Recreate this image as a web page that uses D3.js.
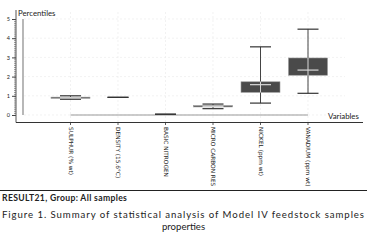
<!DOCTYPE html>
<html>
<head>
<meta charset="utf-8">
<script src="https://cdn.jsdelivr.net/npm/d3@7"></script>
<style>
  body { margin: 0; background: #fff; }
  text { font-family: Lato, "DejaVu Sans", sans-serif; fill: #222; }
</style>
</head>
<body>
<div id="chart"></div>
<script>
// values (percentile summary per variable)
const categories = ["SULPHUR (% wt)", "DENSITY (15.6°C)", "BASIC NITROGEN", "MICRO CARBON RES", "NICKEL (ppm wt)", "VANADIUM (ppm wt)"];
const minVals = [0.82, 0.92, 0.04, 0.33, 0.62, 1.13];
const q1Vals  = [0.87, 0.92, 0.04, 0.42, 1.18, 2.07];
const medVals = [0.90, 0.92, 0.04, 0.45, 1.58, 2.34];
const q3Vals  = [0.93, 0.92, 0.04, 0.49, 1.73, 2.97];
const maxVals = [1.00, 0.92, 0.04, 0.57, 3.55, 4.47];
const yTicks = [0, 1, 2, 3, 4, 5];

const W = 367, H = 245;
const svg = d3.select("#chart").append("svg")
    .attr("width", W)
    .attr("height", H);

// scales
const x = d3.scalePoint().domain(categories).range([70.5, 308]);
const y = d3.scaleLinear().domain([0, 5]).range([115, 19]);

// faint grid
svg.append("g").selectAll("line.hgrid")
    .data(yTicks)
    .enter().append("line")
    .attr("class", "hgrid")
    .attr("x1", 24).attr("x2", 345)
    .attr("y1", d => y(d)).attr("y2", d => y(d))
    .attr("stroke", "#eaeaea").attr("stroke-dasharray", "2,2").attr("stroke-width", 0.6);
svg.append("g").selectAll("line.vgrid")
    .data(categories)
    .enter().append("line")
    .attr("class", "vgrid")
    .attr("x1", d => x(d)).attr("x2", d => x(d))
    .attr("y1", 12).attr("y2", 122)
    .attr("stroke", "#eaeaea").attr("stroke-dasharray", "2,2").attr("stroke-width", 0.6);

// y axis: minor ruler ticks + major ticks
svg.append("g")
    .attr("transform", "translate(16,0)")
    .call(d3.axisLeft(y).ticks(50).tickSize(2).tickFormat(""))
    .call(g => g.select(".domain").remove())
    .call(g => g.selectAll("line").attr("stroke", "#555").attr("stroke-width", 0.6));
svg.append("g")
    .attr("transform", "translate(16,0)")
    .call(d3.axisLeft(y).tickValues(yTicks).tickSize(4).tickPadding(2).tickFormat(d3.format("d")))
    .call(g => g.select(".domain").remove())
    .call(g => g.selectAll("line").attr("stroke", "#444"))
    .call(g => g.selectAll("text").style("font-size", "5.5px").attr("fill", "#333"));
svg.append("line")
    .attr("x1", 16).attr("x2", 16).attr("y1", 10).attr("y2", 122.5)
    .attr("stroke", "#555").attr("stroke-width", 1);

// x axis line and ticks
svg.append("line")
    .attr("x1", 16).attr("x2", 363).attr("y1", 122.5).attr("y2", 122.5)
    .attr("stroke", "#333").attr("stroke-width", 1);
svg.append("g").selectAll("line.xtick")
    .data(categories)
    .enter().append("line")
    .attr("x1", d => x(d)).attr("x2", d => x(d))
    .attr("y1", 122.5).attr("y2", 125)
    .attr("stroke", "#333").attr("stroke-width", 0.8);

// reference lines (scale bar and zero line)
svg.append("line")
    .attr("x1", 23).attr("x2", 23).attr("y1", y(5)).attr("y2", y(0))
    .attr("stroke", "#888").attr("stroke-width", 1.2);
svg.append("line")
    .attr("x1", x(categories[0])).attr("x2", x(categories[categories.length - 1]))
    .attr("y1", y(0)).attr("y2", y(0))
    .attr("stroke", "#999").attr("stroke-width", 1.2);

// box plots
const boxW = 39, capW = 21;
const stats = categories.map((c, i) => ({
    cat: c, min: minVals[i], q1: q1Vals[i], med: medVals[i], q3: q3Vals[i], max: maxVals[i]
}));
const boxes = svg.append("g").selectAll("g.box")
    .data(stats)
    .enter().append("g")
    .attr("class", "box")
    .attr("transform", d => "translate(" + x(d.cat) + ",0)");

boxes.append("line")
    .attr("y1", d => y(d.min)).attr("y2", d => y(d.max))
    .attr("stroke", "#444").attr("stroke-width", 1);
boxes.append("line")
    .attr("x1", -capW / 2).attr("x2", capW / 2)
    .attr("y1", d => y(d.max)).attr("y2", d => y(d.max))
    .attr("stroke", "#333").attr("stroke-width", 1.2);
boxes.append("line")
    .attr("x1", -capW / 2).attr("x2", capW / 2)
    .attr("y1", d => y(d.min)).attr("y2", d => y(d.min))
    .attr("stroke", "#333").attr("stroke-width", 1.2);
boxes.filter(d => d.q3 > d.q1).append("rect")
    .attr("x", -boxW / 2).attr("width", boxW)
    .attr("y", d => y(d.q3))
    .attr("height", d => y(d.q1) - y(d.q3))
    .attr("fill", "#4a4a4a")
    .attr("stroke", "#9a9a9a").attr("stroke-width", 0.6);
// whisker and median inside the box drawn light
boxes.filter(d => d.q3 > d.q1).append("line")
    .attr("y1", d => y(d.q3)).attr("y2", d => y(d.q1))
    .attr("stroke", "#d8d8d8").attr("stroke-width", 1);
boxes.filter(d => d.q3 > d.q1).append("line")
    .attr("x1", -capW / 2).attr("x2", capW / 2)
    .attr("y1", d => y(d.med)).attr("y2", d => y(d.med))
    .attr("stroke", "#d8d8d8").attr("stroke-width", 1.2);

// axis titles
svg.append("text")
    .attr("x", 18).attr("y", 15.5)
    .style("font-size", "7.8px")
    .text("Percentiles");
svg.append("text")
    .attr("x", 328).attr("y", 118.5)
    .style("font-size", "7.8px")
    .text("Variables");

// rotated category labels
svg.append("g").selectAll("text.cat")
    .data(categories)
    .enter().append("text")
    .attr("class", "cat")
    .attr("transform", d => "translate(" + (x(d) + 0.5) + ",127) rotate(90)")
    .attr("dy", "0.35em")
    .style("font-family", "'DejaVu Sans', sans-serif")
    .style("font-size", "5.8px")
    .attr("fill", "#333")
    .text(d => d);

// footer
svg.append("line")
    .attr("x1", 0).attr("x2", W).attr("y1", 190.5).attr("y2", 190.5)
    .attr("stroke", "#222").attr("stroke-width", 1);
svg.append("text")
    .attr("x", 2).attr("y", 200.5)
    .style("font-size", "8.6px").style("font-weight", "bold")
    .style("letter-spacing", "0.35px")
    .text("RESULT21, Group: All samples");
svg.append("text")
    .attr("x", 2).attr("y", 218)
    .attr("textLength", 362).attr("lengthAdjust", "spacing")
    .style("font-size", "9.6px").attr("fill", "#3a3a3a")
    .text("Figure 1. Summary of statistical analysis of Model IV feedstock samples");
svg.append("text")
    .attr("x", W / 2).attr("y", 229.5)
    .attr("text-anchor", "middle")
    .style("font-size", "9.6px").attr("fill", "#3a3a3a")
    .text("properties");
</script>
</body>
</html>
